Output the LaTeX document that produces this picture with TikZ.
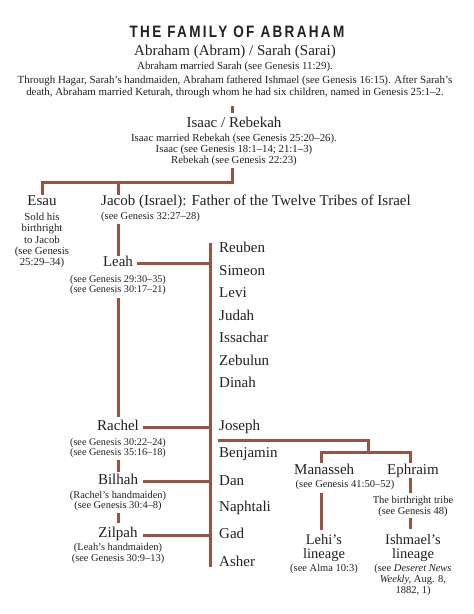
\documentclass[tikz,border=0pt]{standalone}
\usepackage{fontspec}
\setmainfont{Liberation Serif}
\newfontfamily\titlefont[FakeStretch=0.82,LetterSpace=14]{Liberation Sans}
\definecolor{linecol}{HTML}{9A5244}
\definecolor{inkcol}{HTML}{231F20}
\begin{document}
\begin{tikzpicture}[x=1pt,y=-1pt,
  every node/.style={inner sep=0pt,text=inkcol},
  title/.style={font=\titlefont\bfseries\fontsize{16.5}{18}\selectfont},
  person/.style={font=\fontsize{15}{12.5}\selectfont,align=center,text height=10.5pt,text depth=3.5pt},
  lineage/.style={font=\fontsize{14.5}{13.8}\selectfont,align=center},
  tribe/.style={person,anchor=west},
  note/.style={font=\fontsize{10.5}{11}\selectfont,align=center},
  conn/.style={draw=linecol,line width=3pt}]
\useasboundingbox (0,0) rectangle (474,614);
% header
\node[title] (title) at (237,32) {THE FAMILY OF ABRAHAM};
\node[person] (abr) at (235,52) {Abraham (Abram) / Sarah (Sarai)};
\node[note,font=\fontsize{10.9}{12}\selectfont] (abrnote) at (235,67) {Abraham married Sarah (see Genesis 11:29).};
\node[note,font=\fontsize{10.9}{12}\selectfont] (para) at (235,87) {Through Hagar, Sarah’s handmaiden, Abraham fathered Ishmael (see Genesis 16:15). After Sarah’s\\ death, Abraham married Keturah, through whom he had six children, named in Genesis 25:1–2.};
\node[person] (isaac) at (234,124) {Isaac / Rebekah};
\node[note,font=\fontsize{10.8}{11}\selectfont] (isaacnote) at (234,150) {Isaac married Rebekah (see Genesis 25:20–26).\\ Isaac (see Genesis 18:1–14; 21:1–3)\\ Rebekah (see Genesis 22:23)};
\coordinate (c1) at (232,106);
\coordinate (c2) at (232,113);
\draw[conn] (c1) -- (c2);
% Esau and Jacob
\node[person] (esau) at (42,202) {Esau};
\node[note,font=\fontsize{10.8}{11.3}\selectfont] (esaunote) at (42,240.5) {Sold his\\ birthright\\ to Jacob\\ (see Genesis\\ 25:29–34)};
\node[person,anchor=west] (jacob) at (101,202) {Jacob (Israel): Father of the Twelve Tribes of Israel};
\node[note,anchor=west] (jacobnote) at (101,217) {(see Genesis 32:27–28)};
\coordinate (i1) at (232,168);
\coordinate (ibar) at (232,182);
\coordinate (jtop) at (118,195);
\draw[conn,line join=miter] (i1) -- (ibar) -- (42,182) -- (esau.north |- jtop);
\draw[conn] (118,182) -- (jtop);
% wives
\node[person] (leah) at (118,263) {Leah};
\node[note,font=\fontsize{10.2}{10.2}\selectfont] (leahnote) at (118,285) {(see Genesis 29:30–35)\\ (see Genesis 30:17–21)};
\node[person] (rachel) at (118,427) {Rachel};
\node[note,font=\fontsize{10.2}{10.2}\selectfont] (rachelnote) at (118,448) {(see Genesis 30:22–24)\\ (see Genesis 35:16–18)};
\node[person] (bilhah) at (118,481) {Bilhah};
\node[note,font=\fontsize{10.4}{10.4}\selectfont] (bilhahnote) at (118,501) {(Rachel’s handmaiden)\\ (see Genesis 30:4–8)};
\node[person] (zilpah) at (118,534) {Zilpah};
\node[note,font=\fontsize{10.4}{10.8}\selectfont] (zilpahnote) at (118,553.5) {(Leah’s handmaiden)\\ (see Genesis 30:9–13)};
\draw[conn] (118,224) -- (118,256);
\draw[conn] (118,298) -- (118,417);
\draw[conn] (118,460) -- (118,472);
\draw[conn] (118,513) -- (118,523);
% spine
\coordinate (stop) at (210,243);
\coordinate (sbot) at (210,567);
\draw[conn] (stop) -- (sbot);
\draw[conn] (137,263) -- (stop |- leah);
\draw[conn] (143,427) -- (stop |- rachel);
\draw[conn] (143,481) -- (stop |- bilhah);
\draw[conn] (143,535) -- (210,535);
% tribes
\node[tribe] (reuben) at (219,249) {Reuben};
\node[tribe] (simeon) at (219,272) {Simeon};
\node[tribe] (levi) at (219,294) {Levi};
\node[tribe] (judah) at (219,317) {Judah};
\node[tribe] (issachar) at (219,339) {Issachar};
\node[tribe] (zebulun) at (219,362) {Zebulun};
\node[tribe] (dinah) at (219,384) {Dinah};
\node[tribe] (joseph) at (219,427) {Joseph};
\node[tribe] (benjamin) at (219,454) {Benjamin};
\node[tribe] (dan) at (219,482) {Dan};
\node[tribe] (naphtali) at (219,508) {Naphtali};
\node[tribe] (gad) at (219,535) {Gad};
\node[tribe] (asher) at (219,563) {Asher};
% Joseph's sons
\node[person,anchor=west] (manasseh) at (294,471) {Manasseh};
\node[person] (ephraim) at (413,471) {Ephraim};
\node[note] (mannote) at (345,485) {(see Genesis 41:50–52)};
\node[note] (ephnote) at (413,506.5) {The birthright tribe\\ (see Genesis 48)};
\node[lineage] (lehi) at (324,548) {Lehi’s\\ lineage};
\node[note] (lehinote) at (324,568.5) {(see Alma 10:3)};
\node[lineage] (ishmael) at (413,548) {Ishmael’s\\ lineage};
\node[note] (ishnote) at (413,579.5) {(see \textit{Deseret News}\\ \textit{Weekly,} Aug. 8,\\ 1882, 1)};
\coordinate (jb) at (368,440);
\coordinate (sb) at (368,452);
\draw[conn,line join=miter] (218,440) -- (jb) -- (sb);
\draw[conn,line join=miter] (321,463) -- (321,452) -- (410,452) -- (410,463);
\draw[conn] (321,493) -- (321,530);
\draw[conn] (410,478) -- (410,493);
\draw[conn] (410,518) -- (410,529);
\end{tikzpicture}
\end{document}
